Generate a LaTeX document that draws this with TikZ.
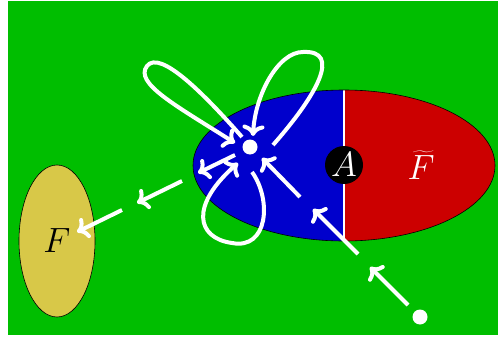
\documentclass[tikz,border=0pt]{standalone}
\usepackage{graphicx}
\usetikzlibrary{shapes.geometric,arrows.meta}
\definecolor{bggreen}{RGB}{0,190,0}
\definecolor{eblue}{RGB}{0,0,204}
\definecolor{ered}{RGB}{204,0,0}
\definecolor{eyellow}{RGB}{216,200,72}
\newcommand{\bigmath}[1]{\scalebox{1.41}{\Huge$#1$}}
\begin{document}
\begin{tikzpicture}[x=1pt,y=-1pt,
  wa/.style={white,line width=4pt,-{To[length=11pt,width=22pt]}},
  dotst/.style={circle,fill=white,inner sep=0pt,minimum size=15pt}]
\useasboundingbox (0,0) rectangle (498,337);
\fill[white] (0,0) rectangle (498,337);
\fill[bggreen] (8,1) rectangle (498,335);
% big ellipse
\node[ellipse,draw=black,line width=0.6pt,inner sep=0pt,minimum width=302pt,minimum height=151pt,
  path picture={
    \fill[eblue] (path picture bounding box.north west) rectangle (path picture bounding box.south);
    \fill[ered] (path picture bounding box.north) rectangle (path picture bounding box.south east);
    \draw[white,line width=2.5pt] (path picture bounding box.north) -- (path picture bounding box.south);
  }] (E) at (344,165.5) {};
\node[circle,fill=black,inner sep=0pt,minimum size=38pt,text=white] (A) at (344,165) {};
\node[text=white,inner sep=0pt] (At) at (344,165) {\bigmath{A}};
\node[text=white] (Ft) at (421,165) {\bigmath{\widetilde{F}}};
% yellow ellipse
\node[ellipse,draw=black,line width=0.6pt,fill=eyellow,inner sep=0pt,minimum width=76pt,minimum height=152pt] (Fe) at (57,241) {};
\node (F) at (57,241) {\bigmath{F}};
% dots
\node[dotst] (d) at (250,147) {};
\node[dotst] (s) at (420,317) {};
% arrows from s to d
\coordinate (s1a) at (408,305); \coordinate (s1b) at (370,267);
\coordinate (s2a) at (358,254); \coordinate (s2b) at (313,209);
\coordinate (s3a) at (300,197); \coordinate (s3b) at (262,158);
\draw[wa] (s1a) -- (s1b);
\draw[wa] (s2a) -- (s2b);
\draw[wa] (s3a) -- (s3b);
% arrows from d to F
\coordinate (f1a) at (235,155); \coordinate (f1b) at (198,173);
\coordinate (f2a) at (182,181); \coordinate (f2b) at (137,203);
\coordinate (f3a) at (122,210); \coordinate (f3b) at (77,232);
\draw[wa] (f1a) -- (f1b);
\draw[wa] (f2a) -- (f2b);
\draw[wa] (f3a) -- (f3b);
% loops
\coordinate (l1a) at (242,137); \coordinate (l1m) at (147,66); \coordinate (l1b) at (235,143);
\draw[wa] (l1a) .. controls (205,95) and (160,49) .. (l1m) .. controls (134,83) and (175,105) .. (l1b);
\coordinate (l2a) at (273,145); \coordinate (l2m) at (303,52); \coordinate (l2b) at (253,136);
\draw[wa] (l2a) .. controls (317,95) and (342,50) .. (l2m) .. controls (278,52) and (255,95) .. (l2b);
\coordinate (l3a) at (252,172); \coordinate (l3m) at (232,243); \coordinate (l3b) at (238,163);
\draw[wa] (l3a) .. controls (272,200) and (268,250) .. (l3m) .. controls (196,238) and (190,205) .. (l3b);
\end{tikzpicture}
\end{document}
